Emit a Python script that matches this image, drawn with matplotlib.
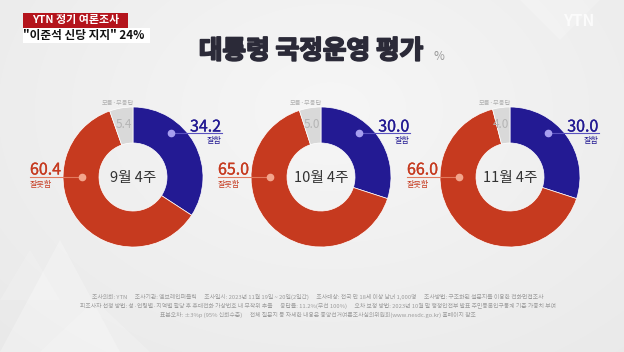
import numpy as np
import matplotlib
matplotlib.use("Agg")
import matplotlib.pyplot as plt
from matplotlib.patches import Rectangle, Polygon
import matplotlib.patheffects as pe

plt.rcParams['font.family'] = ['Noto Sans CJK KR', 'DejaVu Sans']

# ---------------- data ----------------
periods = ["9월 4주", "10월 4주", "11월 4주"]
good = [34.2, 30.0, 30.0]        # 잘함
bad = [60.4, 65.0, 66.0]         # 잘못함
unknown = [5.4, 5.0, 4.0]        # 모름·무응답
good_label = "잘함"
bad_label = "잘못함"
unknown_label = "모름·무응답"
title = "대통령 국정운영 평가"
unit = "%"
badge_top = "YTN 정기 여론조사"
badge_sub = "\"이준석 신당 지지\" 24%"
footer = [
    "조사의뢰: YTN      조사기관: 엠브레인퍼블릭      조사일시: 2023년 11월 19일 ~ 20일(2일간)      조사대상: 전국 만 18세 이상 남녀 1,000명      조사방법: 구조화된 설문지를 이용한 전화면접조사",
    "피조사자 선정 방법: 성·연령별·지역별 할당 후 휴대전화 가상번호 내 무작위 추출      응답률: 11.2%(무선 100%)      오차 보정 방법: 2023년 10월 말 행정안전부 발표 주민등록인구통계 기준 가중치 부여",
    "표본오차: ±3%p (95% 신뢰수준)      전체 질문지 등 자세한 내용은 중앙선거여론조사심의위원회(www.nesdc.go.kr) 홈페이지 참조",
]

BLUE = "#231a93"
RED = "#c63a1f"
GRAY = "#d9d9d9"

W, H = 624, 352
fig = plt.figure(figsize=(W / 100, H / 100), dpi=100)
ax = fig.add_axes([0, 0, 1, 1])

# background gradient
yy, xx = np.mgrid[0:H, 0:W]
d = np.sqrt(((xx - 330) / 420.0) ** 2 + ((yy - 110) / 300.0) ** 2)
bg = 0.965 - 0.045 * np.clip(d, 0, 1.3)
ax.imshow(np.dstack([bg, bg, bg]), extent=[0, W, H, 0], zorder=0, aspect='auto')

# faint decorative triangles
for pts, a in [([(0, 352), (60, 240), (120, 352)], 0.25), ([(40, 352), (95, 300), (150, 352)], 0.18),
               ([(0, 300), (30, 250), (60, 300)], 0.15), ([(520, 0), (560, 40), (600, 0)], 0.2)]:
    ax.add_patch(Polygon(pts, closed=True, facecolor="white", edgecolor="none", alpha=a, zorder=0.5))

centers_x = [133, 321, 510]
cy = 177
R = 70
WIDTH = 36

for i, cx in enumerate(centers_x):
    vals = [good[i], bad[i], unknown[i]]
    ax.pie(vals, colors=[BLUE, RED, GRAY], center=(cx, cy), radius=R,
           startangle=270, counterclock=True,
           wedgeprops=dict(width=WIDTH, edgecolor="white", linewidth=0.5))
    # center label
    ax.text(cx, cy + 1, periods[i], ha="center", va="center", fontsize=10.5, color="#333333")
    # good label (blue)
    gy = cy - 44
    ax.plot([cx + 38, cx + 89], [gy, gy], color="#5a52c0", lw=0.8, zorder=5)
    ax.plot(cx + 38, gy, "o", ms=4.5, color="#a79ff0", zorder=6)
    ax.text(cx + 88, gy - 1.5, f"{good[i]:.1f}", ha="right", va="baseline",
            fontsize=11.5, color=BLUE, fontweight="medium", zorder=6,
            path_effects=[pe.withStroke(linewidth=0.2, foreground=BLUE)])
    ax.text(cx + 88, gy + 2.5, good_label, ha="right", va="top", fontsize=5.8, color=BLUE, zorder=6)
    # bad label (red)
    ax.plot([cx - 103, cx - 51], [cy, cy], color="#e27a5e", lw=0.8, zorder=5)
    ax.plot(cx - 51, cy, "o", ms=4.5, color="#f3a58c", zorder=6)
    ax.text(cx - 103, cy - 2.5, f"{bad[i]:.1f}", ha="left", va="baseline",
            fontsize=11.5, color=RED, fontweight="medium", zorder=6,
            path_effects=[pe.withStroke(linewidth=0.2, foreground=RED)])
    ax.text(cx - 103, cy + 2.5, bad_label, ha="left", va="top", fontsize=5.8, color=RED, zorder=6)
    # unknown
    ax.text(cx - 9, cy - 53, f"{unknown[i]:.1f}", ha="center", va="center",
            fontsize=8.5, color="#b4b4b4", zorder=6)
    ax.text(cx - 15, cy - 74, unknown_label, ha="center", va="center",
            fontsize=4.5, color="#b0b0b0", zorder=6)

# title
ax.text(311, 51, title, ha="center", va="center", fontsize=18.5, fontweight="bold", color="#2b2a38",
        path_effects=[pe.withStroke(linewidth=1.3, foreground="#2b2a38")])
ax.text(433, 57, unit, ha="left", va="center", fontsize=8.5, color="#9a9a9a")

# badges
ax.add_patch(Rectangle((23, 13), 105, 15, facecolor="#b4141c", edgecolor="none", zorder=3))
ax.text(76, 20.5, badge_top, ha="center", va="center", fontsize=7.9, color="white", fontweight="bold", zorder=4)
ax.add_patch(Rectangle((23, 28), 127, 15, facecolor="white", edgecolor="none", zorder=3))
ax.text(84, 35.5, badge_sub, ha="center", va="center", fontsize=8.4, color="#111111", fontweight="bold", zorder=4)

# logo
ax.text(579, 21, "YTN", ha="center", va="center", fontsize=11.5, color="#fbfbfb", fontweight="bold", zorder=4)

# footer
for k, line in enumerate(footer):
    ax.text(318, 297 + 9 * k, line, ha="center", va="center", fontsize=4.2, color="#9c9c9c")

ax.set_xlim(0, W)
ax.set_ylim(H, 0)
ax.set_aspect("auto")
ax.axis("off")
fig.savefig("out.png", dpi=100)
